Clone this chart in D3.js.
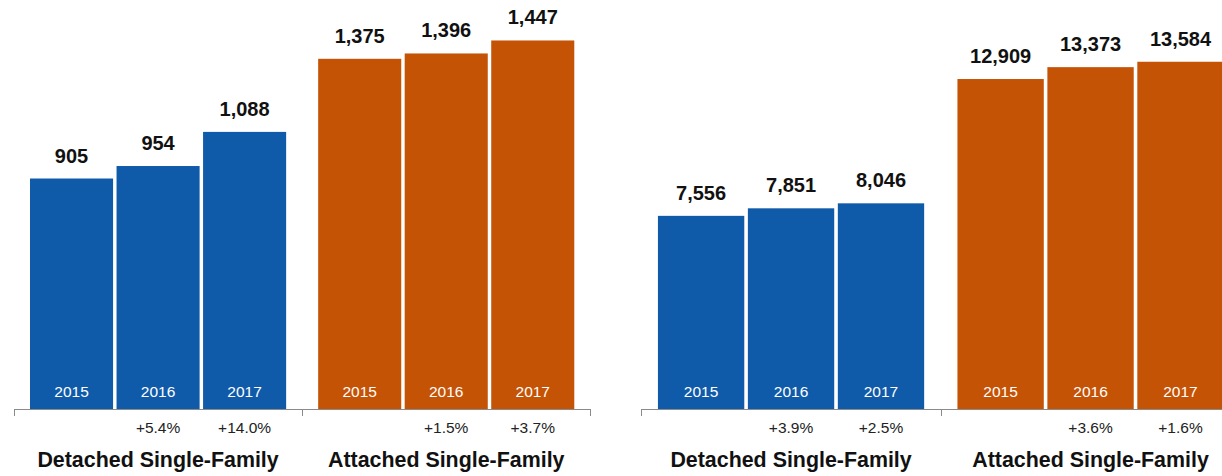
<!DOCTYPE html>
<html>
<head>
<meta charset="utf-8">
<script src="https://cdn.jsdelivr.net/npm/d3@7"></script>
<style>
  body { margin: 0; background: #fff; }
  svg { display: block; font-family: "Liberation Sans", Arial, sans-serif; }
</style>
</head>
<body>
<div id="chart"></div>
<script>
// data
var groups = ["Detached Single-Family", "Attached Single-Family"];
var years = ["2015", "2016", "2017"];
var leftDetached = [905, 954, 1088];
var leftAttached = [1375, 1396, 1447];
var leftDetachedPct = ["", "+5.4%", "+14.0%"];
var leftAttachedPct = ["", "+1.5%", "+3.7%"];
var rightDetached = [7556, 7851, 8046];
var rightAttached = [12909, 13373, 13584];
var rightDetachedPct = ["", "+3.9%", "+2.5%"];
var rightAttachedPct = ["", "+3.6%", "+1.6%"];

var colors = ["#105ba9", "#c55306"];

var svgWidth = 1222;
var svgHeight = 476;
var baseY = 409;

var svg = d3.select("#chart")
  .append("svg")
  .attr("width", svgWidth)
  .attr("height", svgHeight);

// one panel = two groups of three bars
function drawPanel(x0, x1, yMax, topPx, series, pcts) {
  var g = svg.append("g");

  var xGroup = d3.scaleBand()
    .domain(groups)
    .range([x0, x1])
    .padding(0);

  var xYear = d3.scaleBand()
    .domain(years)
    .range([0, xGroup.bandwidth()])
    .paddingInner(0.04)
    .paddingOuter(0.185);

  var y = d3.scaleLinear()
    .domain([0, yMax])
    .range([baseY, topPx]);

  // axis line with ticks at group edges
  g.append("line")
    .attr("x1", x0).attr("x2", x1)
    .attr("y1", baseY + 0.5).attr("y2", baseY + 0.5)
    .attr("stroke", "#8a8a8a")
    .attr("stroke-width", 1);

  var edges = [x0].concat(groups.map(function(d) { return xGroup(d) + xGroup.bandwidth(); }));
  g.selectAll(".edge")
    .data(edges)
    .enter()
    .append("line")
    .attr("x1", function(d) { return Math.round(d) + 0.5; })
    .attr("x2", function(d) { return Math.round(d) + 0.5; })
    .attr("y1", baseY)
    .attr("y2", baseY + 7)
    .attr("stroke", "#8a8a8a");

  groups.forEach(function(name, gi) {
    var gx = xGroup(name);
    var rows = years.map(function(yr, i) {
      return { year: yr, value: series[gi][i], pct: pcts[gi][i] };
    });

    var grp = g.append("g").attr("transform", "translate(" + gx + ",0)");

    grp.selectAll("rect")
      .data(rows)
      .enter()
      .append("rect")
      .attr("x", function(d) { return xYear(d.year); })
      .attr("y", function(d) { return y(d.value); })
      .attr("width", xYear.bandwidth())
      .attr("height", function(d) { return baseY - y(d.value); })
      .attr("fill", colors[gi]);

    // values above bars
    grp.selectAll(".val")
      .data(rows)
      .enter()
      .append("text")
      .attr("x", function(d) { return xYear(d.year) + xYear.bandwidth() / 2; })
      .attr("y", function(d) { return y(d.value) - 16; })
      .attr("text-anchor", "middle")
      .attr("font-size", "20px")
      .attr("font-weight", "bold")
      .attr("fill", "#111")
      .text(function(d) { return d3.format(",")(d.value); });

    // year inside bar
    grp.selectAll(".yr")
      .data(rows)
      .enter()
      .append("text")
      .attr("x", function(d) { return xYear(d.year) + xYear.bandwidth() / 2; })
      .attr("y", 397)
      .attr("text-anchor", "middle")
      .attr("font-size", "15.5px")
      .attr("fill", "#fff")
      .text(function(d) { return d.year; });

    // change percents below axis
    grp.selectAll(".pct")
      .data(rows)
      .enter()
      .append("text")
      .attr("x", function(d) { return xYear(d.year) + xYear.bandwidth() / 2; })
      .attr("y", 433)
      .attr("text-anchor", "middle")
      .attr("font-size", "15.5px")
      .attr("fill", "#222")
      .text(function(d) { return d.pct; });

    // group label
    grp.append("text")
      .attr("x", xGroup.bandwidth() / 2)
      .attr("y", 467)
      .attr("text-anchor", "middle")
      .attr("font-size", "21.4px")
      .attr("font-weight", "bold")
      .attr("fill", "#111")
      .text(name);
  });
}

drawPanel(14, 590.3, 1600, 1.5, [leftDetached, leftAttached], [leftDetachedPct, leftAttachedPct]);
drawPanel(641.3, 1240.3, 16000, 0, [rightDetached, rightAttached], [rightDetachedPct, rightAttachedPct]);
</script>
</body>
</html>
